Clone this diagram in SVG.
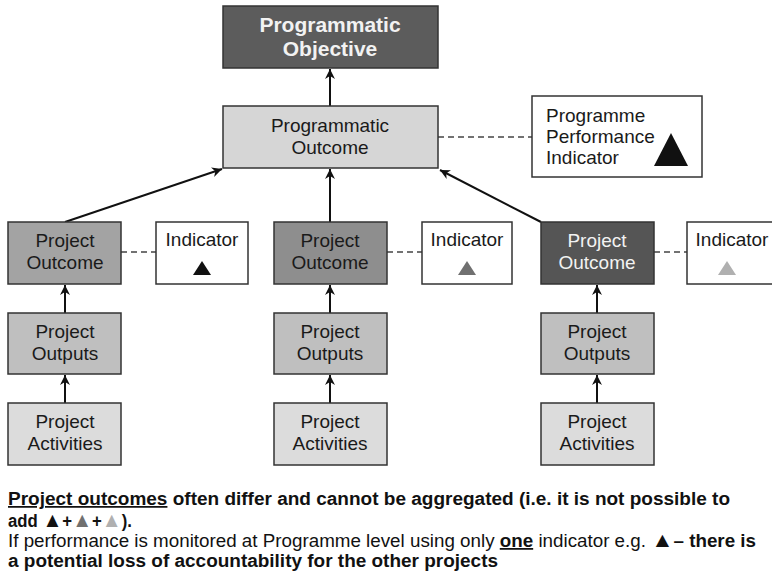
<svg xmlns="http://www.w3.org/2000/svg" width="772" height="574" viewBox="0 0 772 574">
<defs>
<marker id="ah" viewBox="0 0 10 10" refX="10" refY="5" markerWidth="10" markerHeight="10" markerUnits="userSpaceOnUse" orient="auto"><path d="M0,0 L10,5 L0,10 L3,5 z" fill="#111"/></marker>
</defs>
<style>
.box{stroke:#333;stroke-width:1.5}
.t{font-family:"Liberation Sans",Arial,sans-serif;font-size:19px;fill:#1a1a1a;text-anchor:middle}
.tw{fill:#f2f2f2}
.tb{font-weight:bold;font-size:21px}
.arr{stroke:#111;stroke-width:2;fill:none;marker-end:url(#ah)}
.dash{stroke:#444;stroke-width:1.5;stroke-dasharray:6,4;fill:none}
.ft{font-family:"Liberation Sans",Arial,sans-serif;font-size:17.5px;fill:#111}
.b{font-weight:bold}
.tri{font-size:21px}
</style>
<rect width="772" height="574" fill="#fff"/>
<g id="connectors">
<line class="arr" x1="330" y1="106" x2="330" y2="69"/>
<line class="arr" x1="65" y1="222" x2="222" y2="169"/>
<line class="arr" x1="330" y1="222" x2="330" y2="169"/>
<line class="arr" x1="541" y1="222" x2="440" y2="170"/>
<line class="arr" x1="65" y1="313" x2="65" y2="285"/>
<line class="arr" x1="65" y1="403" x2="65" y2="375"/>
<line class="arr" x1="330" y1="313" x2="330" y2="285"/>
<line class="arr" x1="330" y1="403" x2="330" y2="375"/>
<line class="arr" x1="597" y1="313" x2="597" y2="285"/>
<line class="arr" x1="597" y1="403" x2="597" y2="375"/>
<line class="dash" x1="438" y1="137" x2="532" y2="137"/>
<line class="dash" x1="121" y1="252" x2="156" y2="252"/>
<line class="dash" x1="387" y1="252" x2="422" y2="252"/>
<line class="dash" x1="654" y1="252" x2="687" y2="252"/>
</g>
<g id="prog-objective">
<rect class="box" x="223" y="6" width="215" height="62" fill="#5c5c5c"/>
<text class="t tw tb" x="330" y="32">Programmatic</text>
<text class="t tw tb" x="330" y="56">Objective</text>
</g>
<g id="prog-outcome">
<rect class="box" x="223" y="106" width="215" height="62" fill="#d6d6d6"/>
<text class="t" x="330" y="132">Programmatic</text>
<text class="t" x="330" y="154">Outcome</text>
</g>
<g id="ppi">
<rect class="box" x="532" y="96" width="170" height="81" fill="#fff"/>
<text class="t" x="546" y="122" style="text-anchor:start">Programme</text>
<text class="t" x="546" y="143" style="text-anchor:start">Performance</text>
<text class="t" x="546" y="164" style="text-anchor:start">Indicator</text>
<polygon points="671,133 688,166 654,166" fill="#111"/>
</g>
<g id="outcome-1">
<rect class="box" x="8" y="222" width="113" height="62" fill="#a3a3a3"/>
<text class="t" x="65" y="247">Project</text>
<text class="t" x="65" y="269">Outcome</text>
</g>
<g id="indicator-1">
<rect class="box" x="156" y="222" width="92" height="62" fill="#fff"/>
<text class="t" x="202" y="246">Indicator</text>
<polygon points="202,261 211,275 193,275" fill="#111"/>
</g>
<g id="outputs-1">
<rect class="box" x="8" y="313" width="113" height="61" fill="#bfbfbf"/>
<text class="t" x="65" y="338">Project</text>
<text class="t" x="65" y="360">Outputs</text>
</g>
<g id="activities-1">
<rect class="box" x="8" y="403" width="113" height="62" fill="#dcdcdc"/>
<text class="t" x="65" y="428">Project</text>
<text class="t" x="65" y="450">Activities</text>
</g>
<g id="outcome-2">
<rect class="box" x="274" y="222" width="113" height="62" fill="#8e8e8e"/>
<text class="t" x="330" y="247">Project</text>
<text class="t" x="330" y="269">Outcome</text>
</g>
<g id="indicator-2">
<rect class="box" x="422" y="222" width="90" height="62" fill="#fff"/>
<text class="t" x="467" y="246">Indicator</text>
<polygon points="467,261 476,275 458,275" fill="#707070"/>
</g>
<g id="outputs-2">
<rect class="box" x="274" y="313" width="113" height="61" fill="#bfbfbf"/>
<text class="t" x="330" y="338">Project</text>
<text class="t" x="330" y="360">Outputs</text>
</g>
<g id="activities-2">
<rect class="box" x="274" y="403" width="113" height="62" fill="#dcdcdc"/>
<text class="t" x="330" y="428">Project</text>
<text class="t" x="330" y="450">Activities</text>
</g>
<g id="outcome-3">
<rect class="box" x="541" y="222" width="113" height="62" fill="#555"/>
<text class="t tw" x="597" y="247">Project</text>
<text class="t tw" x="597" y="269">Outcome</text>
</g>
<g id="indicator-3">
<rect class="box" x="687" y="222" width="92" height="62" fill="#fff"/>
<text class="t" x="732" y="246">Indicator</text>
<polygon points="727,261 736,275 718,275" fill="#b0b0b0"/>
</g>
<g id="outputs-3">
<rect class="box" x="541" y="313" width="113" height="61" fill="#bfbfbf"/>
<text class="t" x="597" y="338">Project</text>
<text class="t" x="597" y="360">Outputs</text>
</g>
<g id="activities-3">
<rect class="box" x="541" y="403" width="113" height="62" fill="#dcdcdc"/>
<text class="t" x="597" y="428">Project</text>
<text class="t" x="597" y="450">Activities</text>
</g>
<g id="footnote">
<text class="ft b" x="8" y="505" textLength="722" lengthAdjust="spacingAndGlyphs"><tspan text-decoration="underline">Project outcomes</tspan> often differ and cannot be aggregated (i.e. it is not possible to</text>
<text class="ft b" x="8" y="527" textLength="124" lengthAdjust="spacingAndGlyphs">add <tspan class="tri" fill="#111">▲</tspan>+<tspan class="tri" fill="#707070">▲</tspan>+<tspan class="tri" fill="#b0b0b0">▲</tspan>).</text>
<text class="ft" x="8" y="547" textLength="748" lengthAdjust="spacingAndGlyphs">If performance is monitored at Programme level using only <tspan class="b" text-decoration="underline">one</tspan> indicator e.g. <tspan class="tri">▲</tspan><tspan class="b">– there is</tspan></text>
<text class="ft b" x="8" y="567" textLength="490" lengthAdjust="spacingAndGlyphs">a potential loss of accountability for the other projects</text>
</g>
</svg>
